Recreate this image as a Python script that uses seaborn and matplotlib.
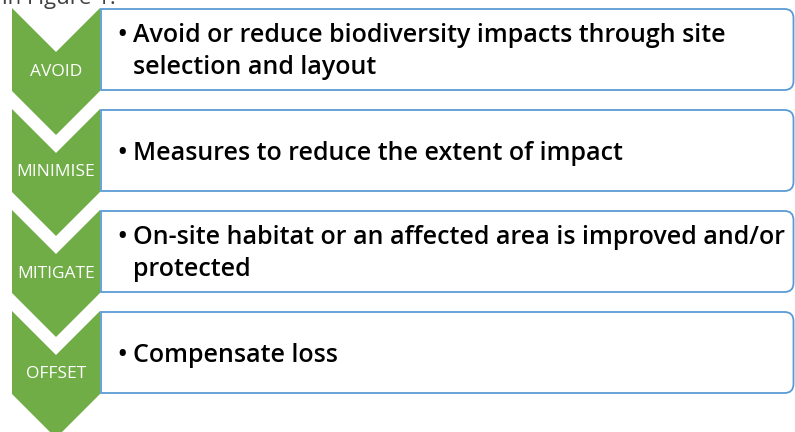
import matplotlib
matplotlib.use("Agg")
import matplotlib.pyplot as plt
from matplotlib.path import Path
from matplotlib.patches import PathPatch, Polygon
import seaborn as sns

# ---- data ----
stages = ["AVOID", "MINIMISE", "MITIGATE", "OFFSET"]
desc_lines = [
    ["Avoid or reduce biodiversity impacts through site", "selection and layout"],
    ["Measures to reduce the extent of impact"],
    ["On-site habitat or an affected area is improved and/or", "protected"],
    ["Compensate loss"],
]
caption = "in Figure 1."

# ---- style ----
sns.set_theme(style="white")
plt.rcParams["font.family"] = ["Open Sans", "DejaVu Sans"]

GREEN = "#70AD47"
BLUE = "#5B9BD5"

W, H = 795, 432
fig = plt.figure(figsize=(W / 100, H / 100), dpi=100)
ax = fig.add_axes([0, 0, 1, 1])
ax.set_xlim(0, W)
ax.set_ylim(H, 0)
ax.axis("off")

step = 101
ch_left, ch_mid, ch_right = 12, 56, 100
depth, side = 44, 83
box_l, box_r, box_h, r = 101, 793.5, 81, 9

def box_path(x0, x1, y0, y1, rad):
    verts = [(x0, y0), (x1 - rad, y0), (x1, y0), (x1, y0 + rad),
             (x1, y1 - rad), (x1, y1), (x1 - rad, y1), (x0, y1), (x0, y0)]
    codes = [Path.MOVETO, Path.LINETO, Path.CURVE3, Path.CURVE3,
             Path.LINETO, Path.CURVE3, Path.CURVE3, Path.LINETO, Path.CLOSEPOLY]
    return Path(verts, codes)

for i, (stage, lines) in enumerate(zip(stages, desc_lines)):
    top = 8 + i * step
    btop = top + 1
    bbot = btop + box_h
    ax.add_patch(PathPatch(box_path(box_l, box_r, btop, bbot, r),
                           facecolor="white", edgecolor=BLUE, lw=1.3, zorder=2))
    chev = [(ch_left, top), (ch_mid, top + depth), (ch_right, top),
            (ch_right, top + side), (ch_mid, top + side + depth),
            (ch_left, top + side)]
    ax.add_patch(Polygon(chev, closed=True, facecolor=GREEN, edgecolor="none", zorder=3))
    ax.text(ch_mid, top + (depth + side) / 2 + 4, stage, color="white",
            fontsize=12.5, ha="center", va="baseline", zorder=4)

    c = (btop + bbot) / 2
    if len(lines) == 1:
        bases = [c + 9]
    else:
        bases = [c - 7, c + 25]
    for j, (b, t) in enumerate(zip(bases, lines)):
        if j == 0:
            ax.text(122, b, "\u2022", fontsize=18, ha="center", va="baseline",
                    color="black", fontweight="semibold", zorder=4)
        ax.text(133, b, t, fontsize=18, ha="left", va="baseline",
                color="black", fontweight="semibold", zorder=4)

ax.text(2, 4, caption, fontsize=16, ha="left", va="baseline", color="#404040")

fig.savefig("out.png", dpi=100)
